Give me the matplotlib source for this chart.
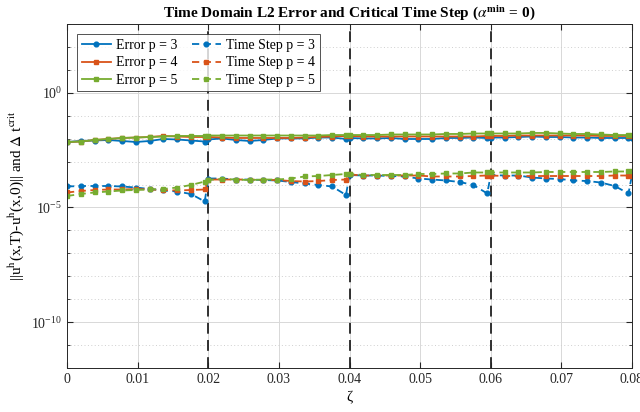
import matplotlib
matplotlib.use("Agg")
import matplotlib.pyplot as plt
import numpy as np
from matplotlib.ticker import NullFormatter, FixedLocator

plt.rcParams['font.family'] = ['Liberation Serif', 'DejaVu Serif']
plt.rcParams['mathtext.fontset'] = 'stix'

# zeta samples (each 0.02 block sampled up to 0.0195, then the boundary value)
zeta = [0.0, 0.00195, 0.0039, 0.00585, 0.0078, 0.00975, 0.0117, 0.01365, 0.0156, 0.01755, 0.0195,
        0.02, 0.02195, 0.0239, 0.02585, 0.0278, 0.02975, 0.0317, 0.03365, 0.0356, 0.03755, 0.0395,
        0.04, 0.04195, 0.0439, 0.04585, 0.0478, 0.04975, 0.0517, 0.05365, 0.0556, 0.05755, 0.0595,
        0.06, 0.06195, 0.0639, 0.06585, 0.0678, 0.06975, 0.0717, 0.07365, 0.0756, 0.07755, 0.0795,
        0.08]

err_p3 = [7.15e-3, 7.91e-3, 8.3e-3, 8.74e-3, 7.91e-3, 7.15e-3, 7.91e-3, 9.67e-3, 9.2e-3, 8.3e-3, 7.5e-3,
          9.2e-3, 1.02e-2, 8.74e-3, 7.91e-3, 8.74e-3, 1.02e-2, 1.02e-2, 1.02e-2, 1.12e-2, 1.12e-2, 9.67e-3,
          1.07e-2, 1.02e-2, 1.02e-2, 1.07e-2, 9.67e-3, 9.67e-3, 9.67e-3, 1.07e-2, 1.07e-2, 1.12e-2, 1.07e-2,
          1.12e-2, 1.12e-2, 1.18e-2, 1.24e-2, 1.18e-2, 1.18e-2, 1.12e-2, 1.12e-2, 1.07e-2, 1.07e-2, 1.07e-2,
          1.07e-2]
err_p4 = [7.15e-3, 7.5e-3, 8.74e-3, 9.67e-3, 1.07e-2, 1.12e-2, 1.18e-2, 1.31e-2, 1.24e-2, 1.18e-2, 1.18e-2,
          1.18e-2, 1.12e-2, 1.07e-2, 1.07e-2, 1.07e-2, 1.07e-2, 1.07e-2, 1.12e-2, 1.18e-2, 1.24e-2, 1.31e-2,
          1.31e-2, 1.24e-2, 1.24e-2, 1.24e-2, 1.24e-2, 1.24e-2, 1.24e-2, 1.24e-2, 1.24e-2, 1.24e-2, 1.31e-2,
          1.31e-2, 1.31e-2, 1.37e-2, 1.37e-2, 1.37e-2, 1.37e-2, 1.37e-2, 1.37e-2, 1.31e-2, 1.31e-2, 1.31e-2,
          1.31e-2]
err_p5 = [7.15e-3, 7.5e-3, 8.74e-3, 9.67e-3, 1.07e-2, 1.12e-2, 1.18e-2, 1.24e-2, 1.31e-2, 1.31e-2, 1.31e-2,
          1.37e-2, 1.37e-2, 1.37e-2, 1.37e-2, 1.37e-2, 1.37e-2, 1.37e-2, 1.37e-2, 1.37e-2, 1.44e-2, 1.44e-2,
          1.44e-2, 1.44e-2, 1.44e-2, 1.52e-2, 1.52e-2, 1.52e-2, 1.52e-2, 1.60e-2, 1.60e-2, 1.68e-2, 1.68e-2,
          1.68e-2, 1.68e-2, 1.68e-2, 1.77e-2, 1.77e-2, 1.68e-2, 1.60e-2, 1.60e-2, 1.52e-2, 1.44e-2, 1.44e-2,
          1.44e-2]

dt_p3 = [8.2e-5, 8.62e-5, 8.62e-5, 8.62e-5, 8.2e-5, 7.4e-5, 6.38e-5, 5.49e-5, 4.96e-5, 3.86e-5, 1.82e-5,
         1.83e-4, 1.83e-4, 1.65e-4, 1.65e-4, 1.57e-4, 1.50e-4, 1.29e-4, 1.11e-4, 9.53e-5, 8.2e-5, 3.49e-5,
         2.60e-4, 2.47e-4, 2.47e-4, 2.35e-4, 2.24e-4, 1.83e-4, 1.65e-4, 1.50e-4, 1.29e-4, 9.53e-5, 4.06e-5,
         2.60e-4, 2.47e-4, 2.47e-4, 2.02e-4, 1.83e-4, 1.74e-4, 1.50e-4, 1.42e-4, 1.22e-4, 8.62e-5, 4.06e-5,
         2.60e-4]
dt_p4 = [4.49e-5, 5.22e-5, 5.77e-5, 6.07e-5, 6.07e-5, 6.38e-5, 6.07e-5, 5.77e-5, 5.49e-5, 5.77e-5, 6.07e-5,
         1.65e-4, 1.65e-4, 1.65e-4, 1.65e-4, 1.57e-4, 1.57e-4, 1.42e-4, 1.35e-4, 1.42e-4, 1.57e-4, 1.65e-4,
         2.74e-4, 2.47e-4, 2.47e-4, 2.47e-4, 2.47e-4, 2.47e-4, 2.24e-4, 2.24e-4, 2.24e-4, 2.35e-4, 2.47e-4,
         2.47e-4, 2.35e-4, 2.35e-4, 2.35e-4, 2.35e-4, 2.35e-4, 2.35e-4, 2.35e-4, 2.35e-4, 2.47e-4, 2.47e-4,
         2.47e-4]
dt_p5 = [3.16e-5, 3.86e-5, 4.49e-5, 4.96e-5, 5.49e-5, 5.77e-5, 6.07e-5, 6.38e-5, 7.4e-5, 9.53e-5, 1.35e-4,
         1.57e-4, 1.74e-4, 1.65e-4, 1.57e-4, 1.65e-4, 1.65e-4, 1.83e-4, 2.24e-4, 2.35e-4, 2.60e-4, 2.88e-4,
         2.88e-4, 2.60e-4, 2.60e-4, 2.60e-4, 2.60e-4, 2.88e-4, 2.88e-4, 3.03e-4, 3.03e-4, 3.35e-4, 3.35e-4,
         3.35e-4, 3.35e-4, 3.35e-4, 3.35e-4, 3.52e-4, 3.52e-4, 3.52e-4, 3.52e-4, 3.52e-4, 3.7e-4, 3.7e-4,
         3.7e-4]

boundaries = [0.02, 0.04, 0.06]
x_ticks = [0, 0.01, 0.02, 0.03, 0.04, 0.05, 0.06, 0.07, 0.08]
x_labels = ['0', '0.01', '0.02', '0.03', '0.04', '0.05', '0.06', '0.07', '0.08']

blue, orange, green = '#0072BD', '#D95319', '#77AC30'

fig = plt.figure(figsize=(6.4, 4.12), dpi=100)
ax = fig.add_axes([0.1047, 0.1068, 0.8828, 0.835])

ax.plot(zeta, err_p3, '-', color=blue, marker='o', ms=3.4, lw=1.3, label='Error p = 3')
ax.plot(zeta, err_p4, '-', color=orange, marker='s', ms=3.2, lw=1.3, label='Error p = 4')
ax.plot(zeta, err_p5, '-', color=green, marker='s', ms=3.2, lw=1.3, label='Error p = 5')
ax.plot(zeta, dt_p3, '--', color=blue, marker='o', ms=3.4, lw=1.3, dashes=(4, 2.5), label='Time Step p = 3')
ax.plot(zeta, dt_p4, '--', color=orange, marker='s', ms=3.2, lw=1.3, dashes=(4, 2.5), label='Time Step p = 4')
ax.plot(zeta, dt_p5, '--', color=green, marker='s', ms=3.2, lw=1.3, dashes=(4, 2.5), label='Time Step p = 5')

for b in boundaries:
    ax.axvline(b, color='#222222', lw=1.3, dashes=(6, 3.5), zorder=1)

ax.set_yscale('log')
ax.set_xlim(0, 0.08)
ax.set_ylim(1e-12, 1e3)
ax.set_xticks(x_ticks)
ax.set_xticklabels(x_labels)
ax.yaxis.set_major_locator(FixedLocator([1e-10, 1e-5, 1e0]))
ax.yaxis.set_minor_locator(FixedLocator([10.0 ** k for k in range(-12, 4)]))
ax.yaxis.set_minor_formatter(NullFormatter())

ax.grid(True, which='major', color='#d8d8d8', lw=0.7, ls='-', zorder=0)
ax.grid(True, which='minor', axis='y', color='#cfcfcf', lw=0.7, ls=(0, (1, 2.5)), zorder=0)
ax.set_axisbelow(True)

ax.tick_params(which='both', direction='in', top=True, right=True, labelsize=10, colors='#262626')
ax.tick_params(which='major', length=4)
ax.tick_params(which='minor', length=2.5)
for s in ax.spines.values():
    s.set_color('#262626')
    s.set_linewidth(0.7)

ax.set_xlabel('ζ', fontsize=11, labelpad=4)
ax.set_ylabel(r'||u$^{\rm h}$(x,T)-u$^{\rm h}$(x,0)|| and $\Delta$ t$^{\rm crit}$', fontsize=11)
ax.set_title(r'Time Domain L2 Error and Critical Time Step ($\alpha^{\mathbf{min}}$ = 0)',
             fontsize=11, fontweight='bold', pad=5)

leg = ax.legend(loc='upper left', ncol=2, fontsize=10, frameon=True, fancybox=False,
                edgecolor='#262626', handlelength=2.1, columnspacing=1.0, labelspacing=0.3,
                borderpad=0.35, handletextpad=0.4, bbox_to_anchor=(0.005, 0.99))
leg.get_frame().set_linewidth(0.7)

fig.savefig('out.png', dpi=100)
